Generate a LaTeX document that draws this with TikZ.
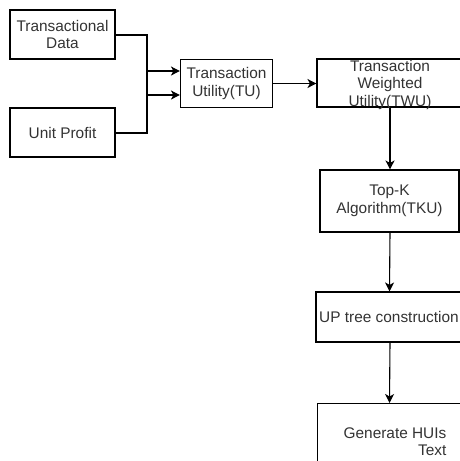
\documentclass[tikz,border=0pt]{standalone}
\usepackage{fontspec}
\setmainfont{Liberation Sans}
\usetikzlibrary{arrows.meta}
\definecolor{ink}{HTML}{333333}
\tikzset{
  box/.style={draw=black, line width=1.1pt, fill=white, inner sep=0pt,
    align=center, text=ink, font=\fontsize{15.4}{17.5}\selectfont},
  label/.style={inner sep=0pt, text=ink, font=\fontsize{15.4}{17.5}\selectfont},
  link/.style={draw=black, line width=1.1pt, -{Stealth[length=9pt,width=9pt,inset=2.5pt]}}
}
\begin{document}
\begin{tikzpicture}[x=1pt, y=-1pt]
  \clip (0,0) rectangle (460,461);
  % boxes (centre, size in px)
  \node[box, minimum width=105pt, minimum height=49pt] (data) at (62.5,34.5) {Transactional\\Data};
  \node[box, minimum width=105pt, minimum height=49pt] (profit) at (62.5,132.5) {Unit Profit};
  \node[box, minimum width=92pt, minimum height=48pt] (tu) at (226.5,83.5) {Transaction\\Utility(TU)};
  \node[box, minimum width=146pt, minimum height=48pt] (twu) at (390,83) {};
  \node[label, align=center] (twutext) at (390,85) {Transaction\\Weighted\\Utility(TWU)};
  \node[box, minimum width=139pt, minimum height=62pt] (tku) at (389.5,201) {Top-K\\Algorithm(TKU)};
  \node[box, minimum width=146pt, minimum height=50pt] (up) at (389,317) {UP tree construction};
  \node[box, minimum width=146pt, minimum height=80pt, anchor=north west] (gen) at (317,403) {};
  \node[label, align=right] (gentext) at (395,441.5) {Generate HUIs\\Text};
  % connectors
  \coordinate (j1) at (147,35);
  \coordinate (j2) at (147,133);
  \draw[link] (data.east |- j1) -- (j1) |- ([yshift=-11.5pt]tu.west);
  \draw[link] (profit.east |- j2) -- (j2) |- ([yshift=12.5pt]tu.west);
  \draw[link] (tu.east) -- (twu.west |- tu.east);
  \draw[link] (twu.south) -- (tku.north -| twu.south);
  \draw[link] ([xshift=0.5pt]tku.south) -- (up.north -| tku.south);
  \draw[link] ([xshift=1pt]up.south) -- (gen.north -| tku.south);
\end{tikzpicture}
\end{document}
